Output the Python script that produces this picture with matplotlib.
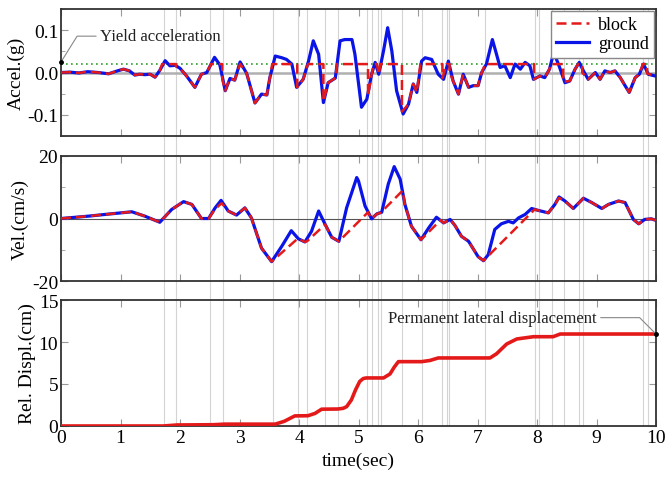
import numpy as np
import matplotlib
matplotlib.use('Agg')
import matplotlib.pyplot as plt
from matplotlib.ticker import MultipleLocator

plt.rcParams['font.family'] = ['Liberation Serif', 'DejaVu Serif']
plt.rcParams['axes.unicode_minus'] = False

# ground acceleration (g)
t_acc = [0.0, 0.15, 0.3, 0.45, 0.63, 0.8, 0.95, 1.05, 1.15, 1.24, 1.32, 1.41, 1.50, 1.58, 1.66,
         1.75, 1.83, 1.92, 2.00, 2.11, 2.25, 2.36, 2.45, 2.58, 2.67, 2.76, 2.84, 2.92, 3.01, 3.12,
         3.26, 3.37, 3.46, 3.51, 3.60, 3.71, 3.79, 3.88, 3.96, 4.07, 4.16, 4.24, 4.33, 4.41, 4.49,
         4.61, 4.69, 4.77, 4.89, 4.94, 5.05, 5.14, 5.22, 5.28, 5.34, 5.42, 5.49, 5.56, 5.64, 5.75,
         5.84, 5.92, 5.98, 6.06, 6.12, 6.23, 6.34, 6.43, 6.51, 6.59, 6.68, 6.76, 6.85, 6.93, 7.01,
         7.07, 7.15, 7.25, 7.32, 7.38, 7.46, 7.55, 7.63, 7.72, 7.80, 7.88, 7.94, 8.05, 8.13, 8.21,
         8.28, 8.36, 8.47, 8.55, 8.64, 8.71, 8.78, 8.86, 8.98, 9.06, 9.14, 9.23, 9.31, 9.40, 9.48,
         9.55, 9.65, 9.72, 9.79, 9.87, 9.98, 10.0]
acc_ground = [0.0, 0.001, -0.001, 0.002, 0.0, -0.003, 0.004, 0.008, 0.004, -0.006, -0.004, -0.005, -0.004, -0.011, 0.005,
              0.028, 0.016, 0.017, 0.010, -0.008, -0.035, -0.004, 0.0, 0.036, 0.018, -0.043, -0.014, -0.018, 0.025, -0.002,
              -0.072, -0.051, -0.053, -0.012, 0.039, 0.035, 0.031, 0.020, -0.035, -0.016, 0.027, 0.075, 0.043, -0.071, -0.024,
              -0.013, 0.075, 0.078, 0.078, 0.043, -0.082, -0.063, -0.004, 0.024, -0.004, 0.051, 0.106, 0.051, -0.043, -0.098,
              -0.075, -0.027, -0.047, 0.027, 0.035, 0.031, -0.004, -0.016, 0.027, -0.020, -0.051, -0.004, -0.035, -0.031, -0.031,
              0.0, 0.020, 0.078, 0.043, 0.012, 0.016, -0.012, 0.020, 0.008, 0.024, 0.016, -0.016, -0.008, -0.012, 0.008,
              0.047, 0.020, -0.024, -0.020, 0.008, 0.024, 0.004, -0.016, 0.0, -0.016, 0.004, 0.0, 0.004, -0.012, -0.031,
              -0.047, -0.012, -0.004, 0.020, -0.004, -0.008, -0.008]

# block acceleration (g)
t_acc_b = [0.0, 0.15, 0.3, 0.45, 0.63, 0.8, 0.95, 1.05, 1.15, 1.24, 1.32, 1.41, 1.50, 1.58, 1.66,
           1.70, 1.93, 1.93, 2.00, 2.11, 2.25, 2.36, 2.45, 2.52, 2.71, 2.71, 2.76, 2.84, 2.92, 3.01, 3.12,
           3.26, 3.37, 3.46, 3.51, 3.55, 3.97, 3.97, 4.07, 4.15, 4.41, 4.41, 4.49,
           4.61, 4.64, 5.16, 5.16, 5.22, 5.26, 5.31, 5.34, 5.37, 5.73, 5.73,
           5.84, 5.92, 5.98, 6.04, 6.41, 6.41, 6.48, 6.53, 6.53, 6.59, 6.68, 6.76, 6.85, 6.93, 7.01,
           7.07, 7.13, 7.95, 7.95, 8.05, 8.13, 8.21, 8.23, 8.44, 8.44, 8.55, 8.64, 8.69, 8.76, 8.76,
           8.86, 8.98, 9.06, 9.14, 9.23, 9.31, 9.40, 9.48, 9.55, 9.65, 9.72, 9.78, 9.85, 9.85, 9.98, 10.0]
acc_block = [0.0, 0.001, -0.001, 0.002, 0.0, -0.003, 0.004, 0.008, 0.004, -0.006, -0.004, -0.005, -0.004, -0.011, 0.005,
             0.020, 0.020, 0.015, 0.010, -0.008, -0.035, -0.004, 0.0, 0.020, 0.020, -0.015, -0.043, -0.014, -0.018, 0.020, -0.002,
             -0.072, -0.051, -0.053, -0.012, 0.020, 0.020, -0.035, -0.016, 0.020, 0.020, -0.068, -0.024,
             -0.013, 0.020, 0.020, -0.055, -0.004, 0.020, 0.020, -0.004, 0.020, 0.020, -0.092,
             -0.075, -0.027, -0.047, 0.020, 0.020, -0.013, 0.020, 0.020, 0.002, -0.020, -0.051, -0.004, -0.035, -0.031, -0.031,
             0.0, 0.020, 0.020, -0.016, -0.008, -0.012, 0.008, 0.020, 0.020, -0.022, -0.020, 0.008, 0.020, 0.020, 0.0,
             -0.016, 0.0, -0.016, 0.004, 0.0, 0.004, -0.012, -0.031, -0.047, -0.012, -0.004, 0.020, 0.020, -0.002, -0.008, -0.008]

# ground velocity (cm/s)
t_vel = [0.0, 0.46, 0.74, 1.19, 1.41, 1.66, 1.86, 2.06, 2.20, 2.36, 2.48, 2.59, 2.69, 2.81, 2.95,
         3.09, 3.20, 3.37, 3.54, 3.71, 3.87, 3.99, 4.10, 4.21, 4.33, 4.44, 4.55, 4.67, 4.80, 4.97,
         5.00, 5.11, 5.22, 5.31, 5.39, 5.50, 5.60, 5.70, 5.78, 5.89, 6.05, 6.18, 6.31, 6.43, 6.54,
         6.62, 6.73, 6.85, 7.01, 7.10, 7.18, 7.29, 7.40, 7.52, 7.60, 7.69, 7.80, 7.91, 8.02, 8.19,
         8.30, 8.37, 8.47, 8.61, 8.78, 8.92, 9.09, 9.20, 9.37, 9.48, 9.62, 9.71, 9.81, 9.92, 10.0]
vel_ground = [0.0, 0.75, 1.3, 2.15, 0.75, -1.2, 2.9, 5.4, 4.5, 0.0, 0.0, 3.4, 5.8, 2.4, 1.1,
              3.4, 0.2, -9.5, -13.8, -8.9, -3.9, -6.5, -7.5, -4.1, 2.4, -1.9, -6.0, -7.3, 3.4, 13.1,
              12.0, 4.0, -0.1, 1.5, 2.0, 11.0, 16.6, 12.6, 4.5, -2.5, -6.8, -3.0, 0.4, -1.4, -0.3,
              -2.2, -5.7, -7.3, -12.2, -13.5, -11.6, -3.5, -1.7, -0.9, -1.4, 0.2, 1.3, 3.2, 2.6, 1.8,
              4.5, 6.9, 5.6, 3.2, 6.5, 5.1, 3.2, 4.5, 5.6, 5.1, -0.3, -1.7, -0.3, -0.1, -0.6]

# block velocity (cm/s)
t_vel_b = [0.0, 0.46, 0.74, 1.19, 1.41, 1.66, 1.86, 2.06, 2.20, 2.36, 2.48, 2.59, 2.70, 2.81, 2.95,
           3.09, 3.20, 3.37, 3.54, 3.98, 4.10, 4.14, 4.44, 4.55, 4.67, 5.16, 5.22, 5.31, 5.37, 5.74,
           5.78, 5.89, 6.05, 6.38, 6.43, 6.54, 6.62, 6.73, 6.85, 7.01, 7.10, 7.96, 8.02, 8.19,
           8.30, 8.37, 8.47, 8.61, 8.78, 8.92, 9.09, 9.20, 9.37, 9.48, 9.62, 9.71, 9.81, 9.92, 10.0]
vel_block = [0.0, 0.75, 1.3, 2.15, 0.75, -1.2, 2.9, 5.4, 4.5, 0.0, 0.0, 3.0, 4.9, 2.4, 1.1,
             3.4, 0.2, -9.5, -13.8, -6.4, -7.5, -7.2, -1.9, -6.0, -7.3, 2.0, -0.1, 1.5, 1.8, 8.9,
             4.5, -2.5, -6.8, -0.5, -1.4, -0.3, -2.2, -5.7, -7.3, -12.2, -13.5, 2.9, 2.6, 1.8,
             4.5, 6.6, 5.6, 3.2, 6.5, 5.1, 3.2, 4.5, 5.6, 5.1, -0.3, -1.7, -0.3, -0.1, -0.6]

# relative displacement (cm)
t_disp = [0.0, 1.72, 1.95, 2.56, 2.75, 3.60, 3.75, 3.93, 4.15, 4.27, 4.38, 4.65, 4.74, 4.80,
          4.88, 4.95, 5.02, 5.08, 5.13, 5.42, 5.53, 5.60, 5.67, 6.06, 6.20, 6.34, 7.21, 7.32,
          7.49, 7.66, 7.94, 8.27, 8.39, 10.0]
disp = [0.0, 0.0, 0.12, 0.15, 0.22, 0.22, 0.55, 1.2, 1.22, 1.5, 2.0, 2.02, 2.1, 2.3,
        3.1, 4.3, 5.3, 5.65, 5.72, 5.72, 6.2, 7.0, 7.66, 7.66, 7.8, 8.1, 8.1, 8.6,
        9.76, 10.36, 10.63, 10.63, 10.95, 10.95]

# slip start / stop times (thin vertical lines)
slip_times = [1.73, 1.93, 2.51, 2.72, 3.56, 3.98, 4.13, 4.43, 4.66, 5.15, 5.22, 5.32, 5.37, 5.73,
              6.07, 6.40, 6.48, 6.52, 7.13, 7.96, 8.03, 8.25, 8.45, 8.70, 8.78, 9.78, 9.86]

yield_acc = 0.02

fig = plt.figure(figsize=(6.66, 4.81), dpi=100)
L, W = 0.0916, 0.8934
ax1 = fig.add_axes([L, 0.7152, W, 0.2638])
ax2 = fig.add_axes([L, 0.4137, W, 0.2599])
ax3 = fig.add_axes([L, 0.1123, W, 0.2619])

blue = '#0a14e6'
red = '#e41a1a'
vline_c = '#d4d4d4'

gaps = [-0.157, -0.152, 0.0]
for ax, g in zip([ax1, ax2, ax3], gaps):
    for ts in slip_times:
        ax.axvline(ts, ymin=g, ymax=1, color=vline_c, lw=0.8, zorder=0, clip_on=False)

# acceleration
ax1.axhline(0, color='#b0b0b0', lw=1.8, zorder=1)
ax1.axhline(yield_acc, color='#2ca02c', lw=1.2, ls=(0, (1, 2)), zorder=2)
ax1.plot(t_acc, acc_ground, color=blue, lw=2.3, label='ground', zorder=3)
ax1.plot(t_acc_b, acc_block, color=red, lw=1.8, ls=(0, (4, 2)), label='block', zorder=4)
ax1.set_ylim(-0.15, 0.15)
ax1.yaxis.set_minor_locator(MultipleLocator(0.05))
ax1.set_yticks([-0.1, 0.0, 0.1])
ax1.set_yticklabels(['-0.1', '0.0', '0.1'])
ax1.set_ylabel('Accel.(g)', fontsize=14, labelpad=2)
h, lab = ax1.get_legend_handles_labels()
leg = ax1.legend(h[::-1], lab[::-1], loc='upper right', fontsize=13, frameon=True, fancybox=False,
                 edgecolor='#888888', framealpha=1, borderaxespad=0.1, handlelength=1.8,
                 borderpad=0.3, labelspacing=0.1, handletextpad=0.5)
ax1.annotate('Yield acceleration', xy=(0.0, 0.025), xytext=(0.66, 0.086), fontsize=12,
             va='center', ha='left', color='#222222',
             arrowprops=dict(arrowstyle='-', color='#888888', lw=0.8, shrinkA=1, shrinkB=0,
                             relpos=(0, 0.5), connectionstyle='angle,angleA=0,angleB=58,rad=0'))
ax1.plot([0.0], [0.025], 'o', color='black', ms=2.5, clip_on=False, zorder=6)

# velocity
ax2.axhline(0, color='#555555', lw=0.8, zorder=1)
ax2.plot(t_vel, vel_ground, color=blue, lw=2.3, zorder=3)
ax2.plot(t_vel_b, vel_block, color=red, lw=1.8, ls=(0, (4, 2)), zorder=4)
ax2.set_ylim(-20, 20)
ax2.set_yticks([-20, 0, 20])
ax2.yaxis.set_minor_locator(MultipleLocator(10))
ax2.set_ylabel('Vel.(cm/s)', fontsize=14, labelpad=2)

# displacement
ax3.plot(t_disp, disp, color=red, lw=2.6, zorder=3, solid_capstyle='butt')
ax3.set_ylim(0, 15)
ax3.set_yticks([0, 5, 10, 15])
ax3.set_ylabel('Rel. Displ.(cm)', fontsize=14, labelpad=2)
ax3.set_xlabel('time(sec)', fontsize=14, labelpad=4)
ax3.annotate('Permanent lateral displacement', xy=(10.0, 10.95), xytext=(9.0, 12.9), fontsize=12,
             va='center', ha='right', color='#222222', annotation_clip=False,
             arrowprops=dict(arrowstyle='-', color='#888888', lw=0.8, shrinkA=1, shrinkB=0,
                             relpos=(1, 0.5), connectionstyle='angle,angleA=0,angleB=135,rad=0'))
ax3.plot([10.0], [10.95], 'o', color='black', ms=2.5, clip_on=False, zorder=6)

for ax in [ax1, ax2, ax3]:
    ax.set_xlim(0, 10)
    ax.xaxis.set_major_locator(MultipleLocator(1))
    ax.tick_params(which='both', direction='in', top=True, right=True, labelsize=14,
                   color='#999999', pad=2)
    ax.tick_params(which='major', length=5)
    ax.tick_params(which='minor', length=3)
    for s in ax.spines.values():
        s.set_color('#333333')
        s.set_linewidth(1.3)
for ax in [ax1, ax2]:
    ax.tick_params(labelbottom=False)

fig.align_ylabels([ax1, ax2, ax3])
plt.savefig('out.png', dpi=100)
